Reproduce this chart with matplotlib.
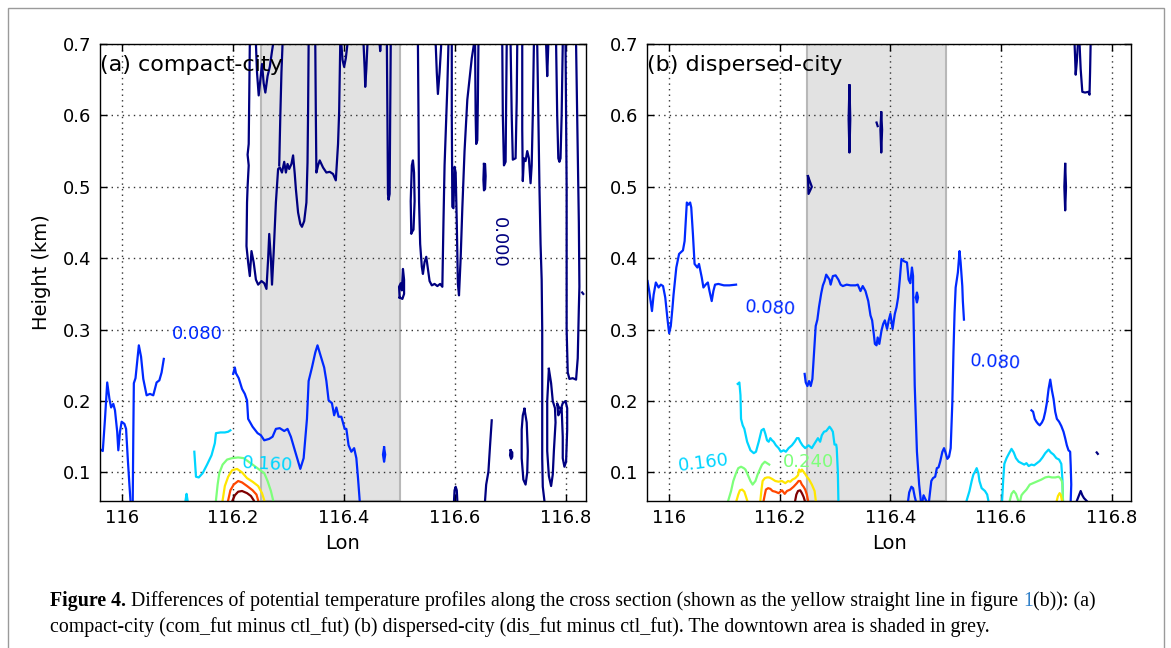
import matplotlib
matplotlib.use("Agg")
import matplotlib.pyplot as plt
from matplotlib.patches import Rectangle

# contour levels (K) and their jet colours
LEVELS = [0.000, 0.080, 0.160, 0.240, 0.320, 0.400, 0.480]

# ---------------- panel (a) compact-city: contour lines as (lon, height km) ----------------
A_000 = [
    [(116.230, 0.70), (116.229, 0.628), (116.228, 0.56), (116.226, 0.545), (116.228, 0.53), (116.226, 0.50),
     (116.225, 0.478), (116.224, 0.417), (116.227, 0.394), (116.230, 0.375), (116.233, 0.410), (116.237, 0.394),
     (116.241, 0.370), (116.245, 0.363), (116.251, 0.368), (116.256, 0.365), (116.260, 0.357), (116.263, 0.399),
     (116.265, 0.434), (116.268, 0.399), (116.270, 0.363), (116.273, 0.408), (116.277, 0.478), (116.281, 0.525),
     (116.284, 0.527), (116.288, 0.520), (116.292, 0.535), (116.295, 0.520), (116.298, 0.532), (116.301, 0.525),
     (116.305, 0.532), (116.308, 0.544), (116.311, 0.518), (116.313, 0.497), (116.317, 0.464), (116.321, 0.448),
     (116.324, 0.444), (116.328, 0.452), (116.332, 0.478), (116.334, 0.534), (116.335, 0.605), (116.336, 0.70)],
    [(116.283, 0.53), (116.285, 0.60), (116.287, 0.66), (116.289, 0.70)],
    [(116.241, 0.70), (116.243, 0.66), (116.246, 0.628), (116.249, 0.65), (116.252, 0.672), (116.255, 0.645),
     (116.258, 0.632), (116.262, 0.655), (116.266, 0.668), (116.270, 0.69), (116.272, 0.70)],
    [(116.348, 0.70), (116.349, 0.60), (116.350, 0.520), (116.353, 0.530), (116.356, 0.537), (116.362, 0.527),
     (116.368, 0.520), (116.374, 0.521), (116.380, 0.518), (116.385, 0.509), (116.389, 0.56), (116.391, 0.605),
     (116.393, 0.70)],
    [(116.395, 0.70), (116.397, 0.678), (116.400, 0.668), (116.403, 0.68), (116.406, 0.70)],
    [(116.435, 0.70), (116.437, 0.665), (116.438, 0.64), (116.440, 0.665), (116.442, 0.70)],
    [(116.464, 0.70), (116.465, 0.69), (116.466, 0.70)],
    [(116.477, 0.70), (116.478, 0.60), (116.479, 0.49), (116.480, 0.482), (116.482, 0.49), (116.483, 0.60),
     (116.484, 0.70)],
    [(116.500, 0.345), (116.499, 0.36), (116.502, 0.365), (116.504, 0.355), (116.506, 0.385), (116.508, 0.37),
     (116.508, 0.35), (116.505, 0.343), (116.500, 0.345)],
    [(116.521, 0.435), (116.520, 0.48), (116.522, 0.53), (116.524, 0.537), (116.526, 0.52), (116.527, 0.48),
     (116.525, 0.44), (116.521, 0.435)],
    [(116.533, 0.70), (116.534, 0.60), (116.535, 0.48), (116.537, 0.42), (116.540, 0.388), (116.542, 0.378),
     (116.545, 0.395), (116.548, 0.402), (116.551, 0.385), (116.554, 0.368), (116.558, 0.362), (116.563, 0.364),
     (116.568, 0.361), (116.573, 0.364), (116.577, 0.360), (116.579, 0.45), (116.581, 0.53), (116.586, 0.64),
     (116.588, 0.70)],
    [(116.565, 0.70), (116.567, 0.66), (116.569, 0.63), (116.572, 0.66), (116.575, 0.70)],
    [(116.594, 0.70), (116.594, 0.60), (116.595, 0.472), (116.597, 0.47), (116.599, 0.528), (116.601, 0.52),
     (116.603, 0.45), (116.605, 0.364), (116.607, 0.348), (116.610, 0.40), (116.613, 0.47), (116.617, 0.55),
     (116.622, 0.622), (116.630, 0.68), (116.634, 0.70)],
    [(116.636, 0.70), (116.637, 0.60), (116.638, 0.56), (116.640, 0.565), (116.641, 0.62), (116.642, 0.70)],
    [(116.652, 0.532), (116.651, 0.51), (116.652, 0.495), (116.654, 0.497), (116.655, 0.515), (116.654, 0.532),
     (116.652, 0.532)],
    [(116.685, 0.70), (116.686, 0.60), (116.688, 0.53), (116.691, 0.535), (116.692, 0.62), (116.693, 0.70)],
    [(116.700, 0.70), (116.702, 0.60), (116.704, 0.538), (116.709, 0.54), (116.711, 0.62), (116.712, 0.70)],
    [(116.721, 0.70), (116.721, 0.58), (116.722, 0.508), (116.724, 0.54), (116.727, 0.536), (116.730, 0.55),
     (116.733, 0.54), (116.736, 0.505), (116.738, 0.53), (116.740, 0.60), (116.742, 0.70)],
    [(116.748, 0.70), (116.750, 0.60), (116.752, 0.50), (116.754, 0.42), (116.756, 0.37), (116.757, 0.30),
     (116.757, 0.20), (116.757, 0.12), (116.758, 0.08), (116.761, 0.06)],
    [(116.764, 0.70), (116.766, 0.655), (116.768, 0.70)],
    [(116.782, 0.70), (116.784, 0.60), (116.786, 0.54), (116.788, 0.535), (116.790, 0.54), (116.792, 0.60),
     (116.794, 0.70)],
    [(116.799, 0.70), (116.800, 0.60), (116.801, 0.50), (116.801, 0.40), (116.801, 0.30), (116.803, 0.24),
     (116.806, 0.231), (116.812, 0.232), (116.818, 0.230), (116.821, 0.26), (116.823, 0.33), (116.824, 0.36),
     (116.823, 0.45), (116.821, 0.55), (116.819, 0.65), (116.818, 0.70)],
    [(116.769, 0.245), (116.773, 0.225), (116.776, 0.20), (116.780, 0.19), (116.781, 0.17), (116.778, 0.13),
     (116.776, 0.097), (116.773, 0.081), (116.769, 0.095), (116.766, 0.13), (116.766, 0.20), (116.769, 0.245)],
    [(116.784, 0.196), (116.788, 0.19), (116.792, 0.19), (116.794, 0.15), (116.794, 0.12), (116.797, 0.108),
     (116.800, 0.115), (116.802, 0.16), (116.802, 0.19), (116.799, 0.20), (116.794, 0.197), (116.789, 0.185),
     (116.786, 0.18), (116.784, 0.196)],
    [(116.725, 0.189), (116.729, 0.17), (116.731, 0.13), (116.730, 0.10), (116.727, 0.083), (116.723, 0.09),
     (116.720, 0.12), (116.720, 0.16), (116.722, 0.18), (116.725, 0.189)],
    [(116.700, 0.131), (116.703, 0.128), (116.703, 0.122), (116.701, 0.119), (116.699, 0.124), (116.700, 0.131)],
    [(116.654, 0.061), (116.656, 0.083), (116.660, 0.101), (116.663, 0.138), (116.666, 0.173)],
    [(116.598, 0.06), (116.599, 0.075), (116.601, 0.080), (116.603, 0.075), (116.604, 0.06)],
    [(116.829, 0.352), (116.831, 0.350)],
]
A_080 = [
    [(115.959, 0.133), (115.965, 0.130), (115.969, 0.175), (115.973, 0.226), (115.977, 0.203), (115.980, 0.191),
     (115.984, 0.196), (115.987, 0.187), (115.991, 0.157), (115.993, 0.131), (115.996, 0.157), (115.999, 0.171),
     (116.004, 0.168), (116.007, 0.161), (116.010, 0.120), (116.013, 0.083), (116.015, 0.060)],
    [(116.019, 0.060), (116.020, 0.150), (116.021, 0.225), (116.024, 0.232), (116.030, 0.278), (116.034, 0.262),
     (116.038, 0.231), (116.044, 0.208), (116.050, 0.210), (116.056, 0.208), (116.062, 0.226), (116.067, 0.229),
     (116.071, 0.240), (116.075, 0.259)],
    [(116.200, 0.238), (116.203, 0.247), (116.205, 0.239), (116.210, 0.232), (116.216, 0.217), (116.221, 0.210),
     (116.225, 0.201), (116.227, 0.175), (116.235, 0.164), (116.244, 0.155), (116.250, 0.152), (116.256, 0.145),
     (116.265, 0.147), (116.271, 0.150), (116.277, 0.161), (116.284, 0.162), (116.292, 0.158), (116.298, 0.161),
     (116.304, 0.150), (116.310, 0.134), (116.321, 0.105), (116.327, 0.120), (116.333, 0.175), (116.336, 0.228),
     (116.342, 0.247), (116.348, 0.268), (116.352, 0.278), (116.357, 0.265), (116.364, 0.247), (116.368, 0.228),
     (116.372, 0.201), (116.378, 0.197), (116.382, 0.180), (116.386, 0.191), (116.390, 0.178), (116.395, 0.178),
     (116.401, 0.161), (116.404, 0.161), (116.408, 0.138), (116.413, 0.129), (116.418, 0.134), (116.422, 0.120),
     (116.425, 0.092), (116.428, 0.061)],
    [(116.472, 0.135), (116.474, 0.125), (116.472, 0.115), (116.470, 0.125), (116.472, 0.135)],
]
A_160 = [
    [(116.130, 0.129), (116.133, 0.094), (116.138, 0.093), (116.145, 0.099), (116.153, 0.111), (116.161, 0.124),
     (116.167, 0.141), (116.169, 0.155), (116.177, 0.156), (116.185, 0.156), (116.191, 0.157), (116.195, 0.159)],
    [(116.114, 0.060), (116.116, 0.070), (116.118, 0.060)],
]
A_240 = [
    [(116.169, 0.061), (116.172, 0.083), (116.175, 0.099), (116.181, 0.111), (116.189, 0.118), (116.198, 0.120),
     (116.209, 0.121), (116.219, 0.120), (116.235, 0.111), (116.247, 0.104), (116.256, 0.099), (116.262, 0.088),
     (116.268, 0.074), (116.272, 0.061)],
]
A_320 = [
    [(116.181, 0.061), (116.185, 0.081), (116.191, 0.094), (116.198, 0.103), (116.207, 0.105), (116.216, 0.100),
     (116.225, 0.092), (116.235, 0.087), (116.245, 0.081), (116.252, 0.071), (116.256, 0.061)],
]
A_400 = [
    [(116.191, 0.061), (116.195, 0.075), (116.201, 0.083), (116.209, 0.088), (116.216, 0.086), (116.225, 0.081),
     (116.235, 0.075), (116.242, 0.069), (116.245, 0.061)],
]
A_480 = [
    [(116.199, 0.061), (116.203, 0.068), (116.209, 0.073), (116.216, 0.074), (116.225, 0.071), (116.232, 0.067),
     (116.237, 0.061)],
]

# ---------------- panel (b) dispersed-city ----------------
B_000 = [
    [(116.326, 0.642), (116.3275, 0.595), (116.326, 0.548), (116.3245, 0.595), (116.326, 0.642)],
    [(116.3835, 0.604), (116.385, 0.58), (116.3835, 0.548), (116.382, 0.58), (116.3835, 0.604)],
    [(116.375, 0.590), (116.377, 0.585)],
    [(116.251, 0.515), (116.252, 0.490), (116.258, 0.500), (116.251, 0.515)],
    [(116.716, 0.532), (116.7175, 0.50), (116.716, 0.467), (116.7145, 0.50), (116.716, 0.532)],
    [(116.733, 0.70), (116.734, 0.68), (116.735, 0.657), (116.737, 0.675), (116.739, 0.70)],
    [(116.742, 0.70), (116.744, 0.665), (116.747, 0.633), (116.752, 0.632), (116.758, 0.633), (116.760, 0.629),
     (116.761, 0.66), (116.762, 0.70)],
    [(116.737, 0.060), (116.741, 0.068), (116.744, 0.074), (116.747, 0.068), (116.750, 0.064), (116.755, 0.060)],
    [(116.773, 0.128), (116.775, 0.126)],
]
B_080 = [
    [(115.961, 0.368), (115.964, 0.354), (115.969, 0.326), (115.972, 0.349), (115.976, 0.366), (115.981, 0.359),
     (115.985, 0.363), (115.989, 0.361), (115.993, 0.345), (115.997, 0.315), (116.000, 0.295), (116.003, 0.305),
     (116.006, 0.330), (116.008, 0.349), (116.013, 0.387), (116.018, 0.406), (116.025, 0.411), (116.028, 0.424),
     (116.032, 0.478), (116.035, 0.475), (116.038, 0.478), (116.040, 0.471), (116.043, 0.434), (116.046, 0.392),
     (116.051, 0.387), (116.054, 0.392), (116.059, 0.373), (116.062, 0.359), (116.066, 0.363), (116.070, 0.366),
     (116.073, 0.354), (116.077, 0.340), (116.080, 0.354), (116.083, 0.363), (116.089, 0.364), (116.099, 0.362),
     (116.109, 0.362), (116.121, 0.363)],
    [(116.245, 0.238), (116.247, 0.226), (116.250, 0.221), (116.253, 0.228), (116.256, 0.221), (116.259, 0.231),
     (116.262, 0.268), (116.265, 0.305), (116.268, 0.314), (116.271, 0.332), (116.275, 0.351), (116.278, 0.362),
     (116.281, 0.368), (116.284, 0.377), (116.290, 0.370), (116.292, 0.363), (116.296, 0.375), (116.301, 0.376),
     (116.306, 0.370), (116.310, 0.363), (116.314, 0.361), (116.321, 0.363), (116.328, 0.362), (116.337, 0.362),
     (116.341, 0.363), (116.346, 0.354), (116.350, 0.361), (116.355, 0.354), (116.360, 0.340), (116.364, 0.320),
     (116.367, 0.313), (116.370, 0.294), (116.372, 0.280), (116.375, 0.278), (116.377, 0.289), (116.380, 0.280),
     (116.384, 0.299), (116.387, 0.308), (116.390, 0.313), (116.394, 0.301), (116.397, 0.313), (116.400, 0.322),
     (116.404, 0.301), (116.408, 0.322), (116.411, 0.331), (116.414, 0.345), (116.417, 0.37), (116.420, 0.399),
     (116.424, 0.396), (116.430, 0.394), (116.433, 0.370), (116.436, 0.365), (116.439, 0.387), (116.441, 0.375),
     (116.441, 0.36), (116.442, 0.314), (116.444, 0.222), (116.446, 0.175), (116.448, 0.129), (116.452, 0.083),
     (116.455, 0.061)],
    [(116.446, 0.345), (116.448, 0.352), (116.450, 0.345), (116.448, 0.338), (116.446, 0.345)],
    [(116.432, 0.060), (116.434, 0.072), (116.438, 0.080), (116.441, 0.078), (116.444, 0.066), (116.446, 0.060)],
    [(116.458, 0.060), (116.460, 0.068), (116.463, 0.063), (116.465, 0.060)],
    [(116.470, 0.061), (116.474, 0.088), (116.477, 0.092), (116.481, 0.094), (116.484, 0.106), (116.487, 0.107),
     (116.490, 0.115), (116.494, 0.129), (116.497, 0.134), (116.500, 0.127), (116.503, 0.119), (116.506, 0.122),
     (116.509, 0.134), (116.512, 0.198), (116.514, 0.268), (116.516, 0.323), (116.518, 0.359), (116.522, 0.380),
     (116.525, 0.410), (116.527, 0.394), (116.530, 0.361), (116.531, 0.340), (116.533, 0.314)],
    [(116.655, 0.187), (116.658, 0.185), (116.661, 0.175), (116.664, 0.171), (116.667, 0.168), (116.670, 0.166),
     (116.674, 0.170), (116.677, 0.175), (116.680, 0.185), (116.683, 0.198), (116.686, 0.217), (116.689, 0.230),
     (116.692, 0.215), (116.695, 0.203), (116.698, 0.185), (116.701, 0.175), (116.705, 0.171), (116.709, 0.165),
     (116.713, 0.157), (116.716, 0.148), (116.719, 0.138), (116.722, 0.131), (116.725, 0.129), (116.726, 0.110),
     (116.727, 0.083), (116.726, 0.061)],
]
B_160 = [
    [(116.124, 0.224), (116.127, 0.226), (116.129, 0.208), (116.130, 0.175), (116.133, 0.166), (116.136, 0.161),
     (116.141, 0.143), (116.147, 0.131), (116.153, 0.127), (116.157, 0.129), (116.162, 0.143), (116.167, 0.159),
     (116.171, 0.161), (116.174, 0.154), (116.177, 0.145), (116.180, 0.143), (116.183, 0.148), (116.186, 0.145),
     (116.189, 0.143), (116.193, 0.138), (116.198, 0.134), (116.202, 0.129), (116.207, 0.131), (116.211, 0.129),
     (116.216, 0.134), (116.222, 0.138), (116.227, 0.143), (116.231, 0.148), (116.234, 0.148), (116.237, 0.143),
     (116.241, 0.138), (116.246, 0.134), (116.252, 0.138), (116.258, 0.134), (116.261, 0.138), (116.265, 0.143),
     (116.269, 0.148), (116.273, 0.143), (116.276, 0.152), (116.280, 0.157), (116.284, 0.158), (116.287, 0.161),
     (116.290, 0.164), (116.293, 0.161), (116.296, 0.157), (116.299, 0.139), (116.302, 0.139), (116.303, 0.134),
     (116.305, 0.101), (116.306, 0.061)],
    [(116.602, 0.061), (116.604, 0.090), (116.606, 0.112), (116.610, 0.120), (116.614, 0.126), (116.619, 0.133),
     (116.623, 0.128), (116.627, 0.120), (116.632, 0.115), (116.637, 0.113), (116.642, 0.111), (116.646, 0.113),
     (116.650, 0.109), (116.655, 0.111), (116.660, 0.110), (116.665, 0.113), (116.670, 0.116), (116.675, 0.121),
     (116.680, 0.127), (116.686, 0.132), (116.690, 0.128), (116.695, 0.125), (116.700, 0.120), (116.705, 0.118),
     (116.709, 0.112), (116.711, 0.090), (116.712, 0.061)],
    [(116.538, 0.061), (116.543, 0.074), (116.547, 0.088), (116.550, 0.097), (116.553, 0.101), (116.556, 0.106),
     (116.559, 0.099), (116.561, 0.088), (116.565, 0.078), (116.571, 0.074), (116.575, 0.069), (116.577, 0.061)],
]
B_240 = [
    [(116.107, 0.061), (116.112, 0.074), (116.116, 0.088), (116.121, 0.099), (116.125, 0.106), (116.130, 0.108),
     (116.135, 0.106), (116.138, 0.104), (116.142, 0.097), (116.147, 0.088), (116.151, 0.083), (116.156, 0.088),
     (116.160, 0.097), (116.165, 0.106), (116.168, 0.111), (116.173, 0.115), (116.177, 0.113), (116.181, 0.111)],
    [(116.616, 0.061), (116.619, 0.070), (116.623, 0.074), (116.627, 0.070), (116.631, 0.061)],
    [(116.635, 0.061), (116.637, 0.068), (116.640, 0.071), (116.646, 0.076), (116.652, 0.083), (116.658, 0.085),
     (116.667, 0.088), (116.673, 0.090), (116.680, 0.093), (116.686, 0.094), (116.692, 0.093), (116.698, 0.093),
     (116.704, 0.094), (116.707, 0.092), (116.710, 0.088), (116.711, 0.083), (116.712, 0.061)],
]
B_320 = [
    [(116.122, 0.061), (116.125, 0.069), (116.128, 0.075), (116.132, 0.076), (116.136, 0.073), (116.139, 0.066),
     (116.141, 0.061)],
    [(116.165, 0.061), (116.167, 0.076), (116.169, 0.088), (116.173, 0.092), (116.177, 0.093), (116.181, 0.093),
     (116.186, 0.091), (116.192, 0.088), (116.198, 0.087), (116.204, 0.088), (116.210, 0.085), (116.215, 0.088),
     (116.219, 0.087), (116.223, 0.090), (116.228, 0.092), (116.233, 0.096), (116.235, 0.104), (116.238, 0.101),
     (116.240, 0.104), (116.245, 0.099), (116.249, 0.094), (116.253, 0.090), (116.258, 0.083), (116.263, 0.074),
     (116.265, 0.061)],
    [(116.701, 0.061), (116.703, 0.067), (116.706, 0.071), (116.708, 0.069), (116.710, 0.061)],
]
B_400 = [
    [(116.171, 0.061), (116.173, 0.069), (116.175, 0.076), (116.179, 0.078), (116.183, 0.077), (116.187, 0.074),
     (116.192, 0.073), (116.198, 0.071), (116.204, 0.075), (116.209, 0.070), (116.213, 0.074), (116.219, 0.076),
     (116.225, 0.080), (116.231, 0.085), (116.234, 0.088), (116.237, 0.088), (116.240, 0.083), (116.243, 0.080),
     (116.246, 0.076), (116.249, 0.069), (116.251, 0.061)],
]
B_480 = [
    [(116.228, 0.061), (116.230, 0.069), (116.233, 0.074), (116.237, 0.075), (116.240, 0.071), (116.243, 0.066),
     (116.245, 0.061)],
]

X_TICKS = [116.0, 116.2, 116.4, 116.6, 116.8]
X_TICKLABELS = ["116", "116.2", "116.4", "116.6", "116.8"]
Y_TICKS = [0.1, 0.2, 0.3, 0.4, 0.5, 0.6, 0.7]
DOWNTOWN = (116.25, 116.5)

PANEL_A = [A_000, A_080, A_160, A_240, A_320, A_400, A_480]
PANEL_B = [B_000, B_080, B_160, B_240, B_320, B_400, B_480]

jet = plt.cm.jet
COLORS = [jet(i / (len(LEVELS) - 1)) for i in range(len(LEVELS))]

W, H = 1171, 648
fig = plt.figure(figsize=(W / 100, H / 100), dpi=100)
fig.patch.set_facecolor("white")

ax_a = fig.add_axes([100 / W, 1 - 501 / H, 485.5 / W, 457 / H])
ax_b = fig.add_axes([647 / W, 1 - 501 / H, 484 / W, 457 / H])


def setup(ax, title):
    ax.axvspan(DOWNTOWN[0], DOWNTOWN[1], facecolor="#e2e2e2", edgecolor="#b8b8b8", lw=1.5, zorder=0.5)
    ax.set_xlim(115.96, 116.835)
    ax.set_ylim(0.06, 0.70)
    ax.set_xticks(X_TICKS)
    ax.set_xticklabels(X_TICKLABELS)
    ax.set_yticks(Y_TICKS)
    ax.set_yticklabels([f"{v:.1f}" for v in Y_TICKS])
    ax.tick_params(direction="in", top=True, right=True, length=5, width=1, labelsize=13, pad=6)
    ax.grid(True, color="#333333", lw=1.0, dashes=(1, 3))
    for s in ax.spines.values():
        s.set_linewidth(1.0)
    ax.set_xlabel("Lon", fontsize=14, labelpad=5)
    ax.text(0.0, 0.955, title, transform=ax.transAxes, fontsize=16, va="center", ha="left")


def draw(ax, panel):
    for lvl, lines in enumerate(panel):
        for ln in lines:
            xs = [p[0] for p in ln]
            ys = [p[1] for p in ln]
            ax.plot(xs, ys, color=COLORS[lvl], lw=1.6, solid_joinstyle="round")


setup(ax_a, "(a) compact-city")
setup(ax_b, "(b) dispersed-city")
ax_a.set_ylabel("Height (km)", fontsize=14, labelpad=9)
draw(ax_a, PANEL_A)
draw(ax_b, PANEL_B)

# inline contour labels
ax_a.text(116.135, 0.294, "0.080", color=COLORS[1], fontsize=13, ha="center", va="center")
ax_a.text(116.262, 0.111, "0.160", color=COLORS[2], fontsize=13, ha="center", va="center", rotation=-3)
ax_a.text(116.679, 0.422, "0.000", color=COLORS[0], fontsize=13, ha="center", va="center", rotation=-90)
ax_b.text(116.184, 0.330, "0.080", color=COLORS[1], fontsize=13, ha="center", va="center", rotation=-3)
ax_b.text(116.591, 0.254, "0.080", color=COLORS[1], fontsize=13, ha="center", va="center", rotation=-3)
ax_b.text(116.062, 0.113, "0.160", color=COLORS[2], fontsize=13, ha="center", va="center", rotation=7)
ax_b.text(116.252, 0.115, "0.240", color=COLORS[3], fontsize=13, ha="center", va="center")

# page frame
fig.patches.append(Rectangle((8 / W, -0.05), (1164 - 8) / W, (648 - 8) / H + 0.05,
                             transform=fig.transFigure, fill=False, edgecolor="#9a9a9a", lw=1.0))

# caption
renderer = fig.canvas.get_renderer()
cap = dict(family="Liberation Serif", fontsize=14.3, va="baseline")


def put_line(pieces, x_px, y_px):
    x = x_px / W
    for s, extra in pieces:
        t = fig.text(x, 1 - y_px / H, s, **cap, **extra)
        x += t.get_window_extent(renderer=renderer).width / W


put_line([("Figure 4.", {"weight": "bold"}),
          (" Differences of potential temperature profiles along the cross section (shown as the yellow "
           "straight line in figure ", {}),
          ("1", {"color": "#2f7fc8"}),
          ("(b)): (a)", {})], 50, 606)
put_line([("compact-city (com_fut minus ctl_fut) (b) dispersed-city (dis_fut minus ctl_fut). "
           "The downtown area is shaded in grey.", {})], 50, 632)

fig.savefig("out.png", dpi=100)
